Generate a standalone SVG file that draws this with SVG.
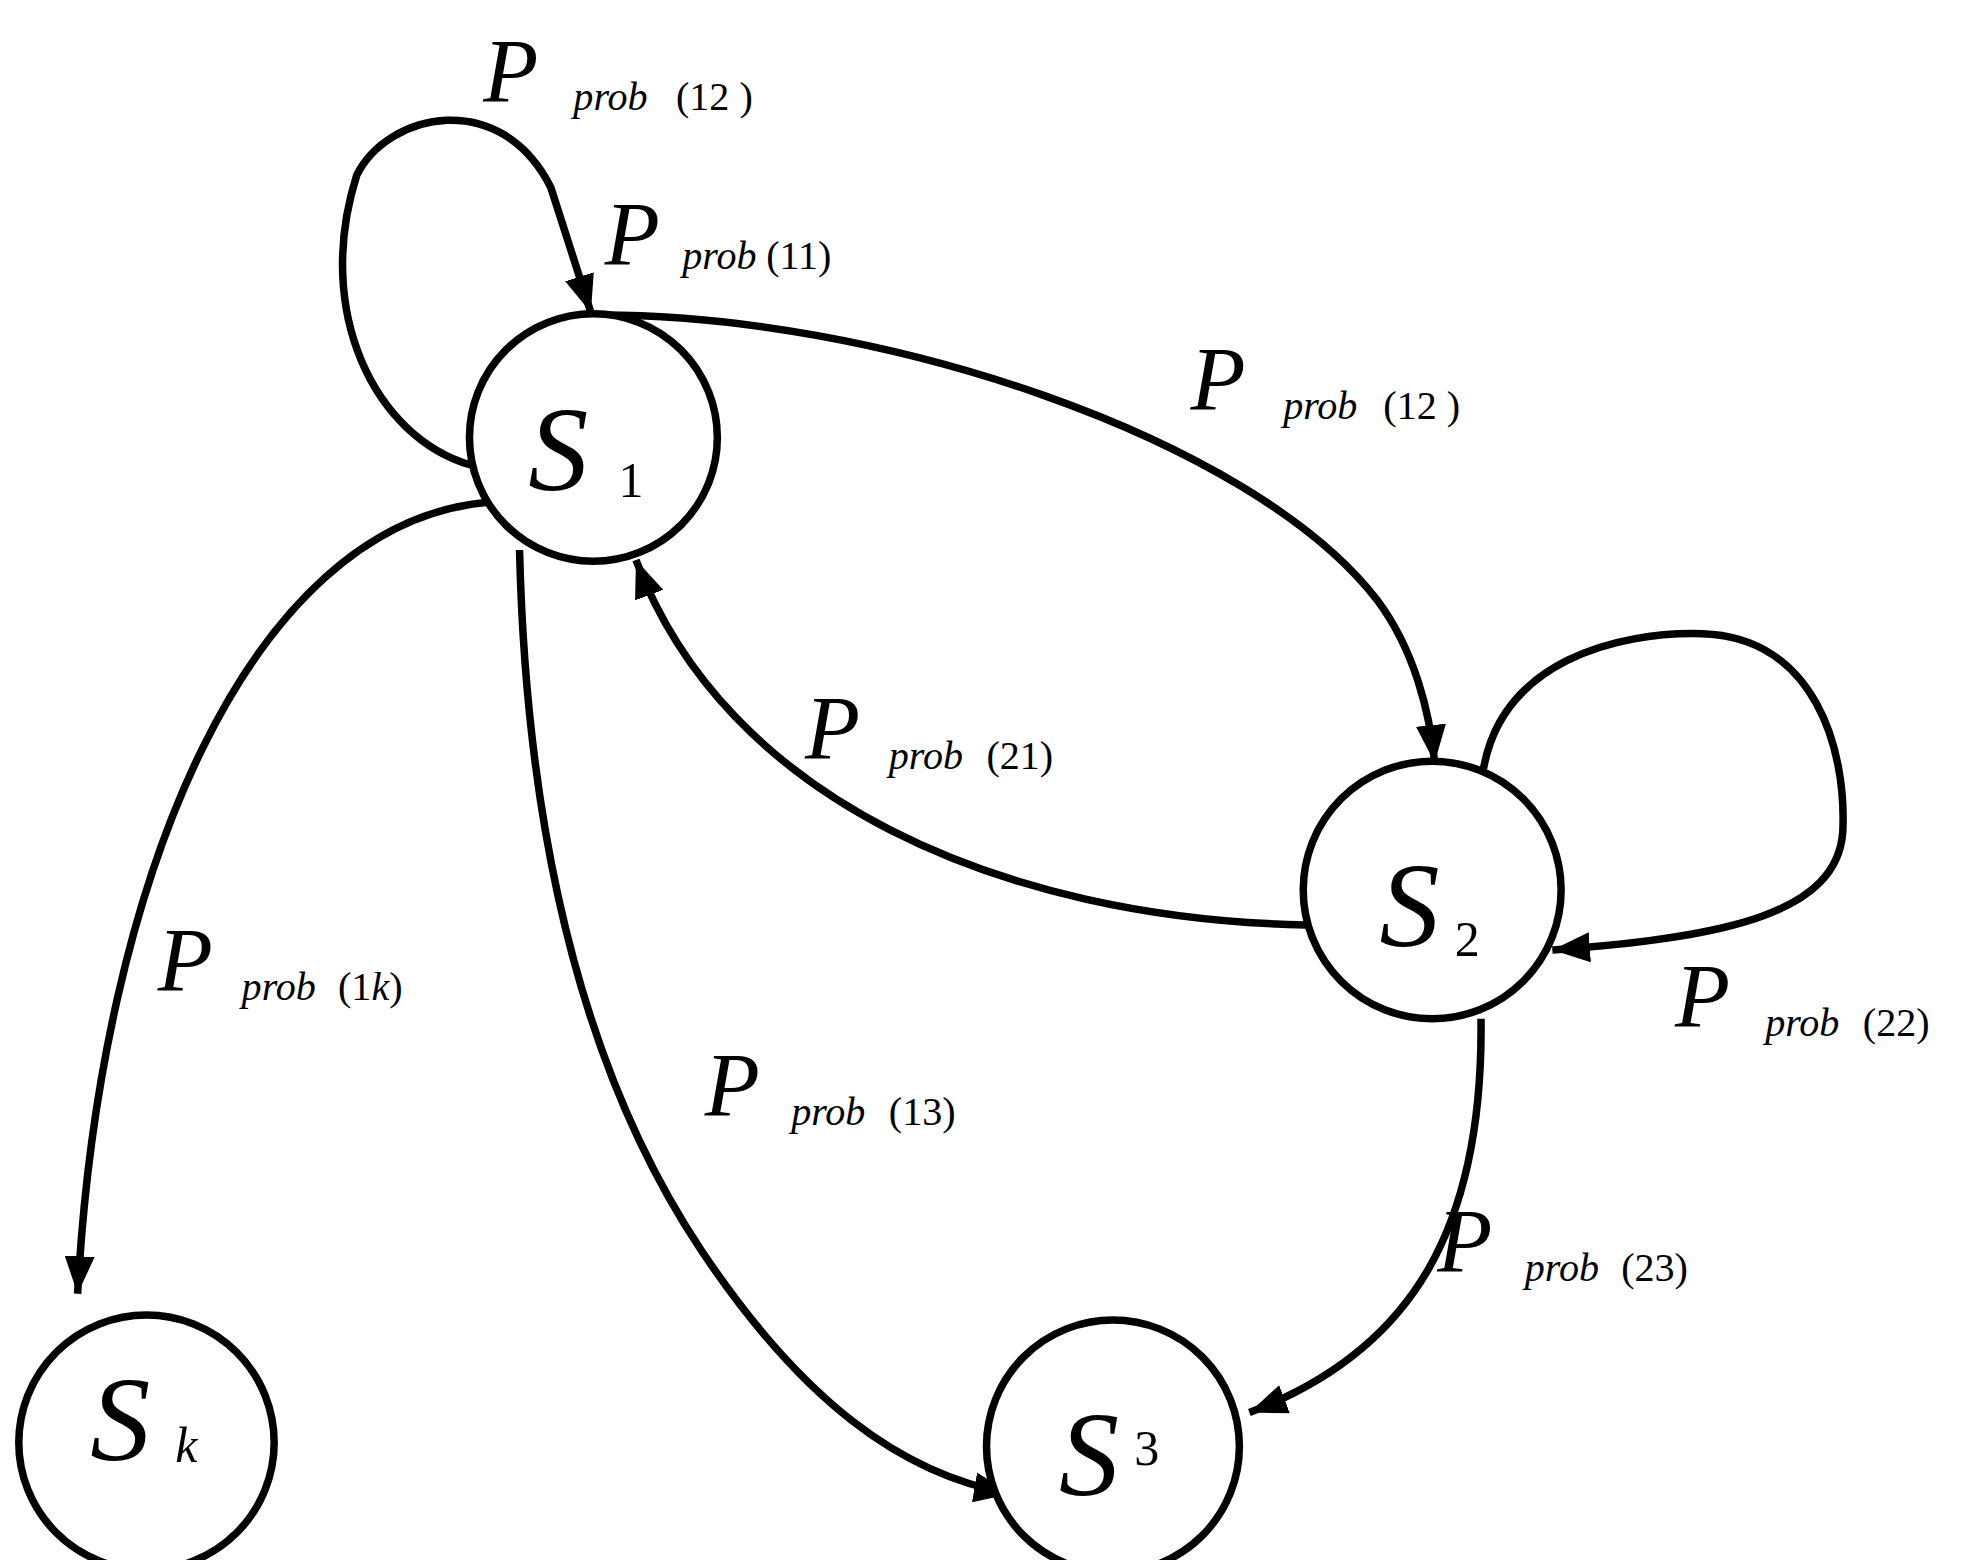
<svg xmlns="http://www.w3.org/2000/svg" width="1963" height="1560" viewBox="0 0 1963 1560">
<style>
.n{fill:#fff;stroke:#000;stroke-width:6}
.e{fill:none;stroke:#000;stroke-width:6;marker-end:url(#a)}
text{font-family:"Liberation Serif","Times New Roman",serif;fill:#000}
.P{font-size:72px;font-style:italic}
.sb{font-size:32px;font-style:italic}
.nm{font-size:32px}
.S{font-size:96px;font-style:italic}
.d{font-size:40px}
</style>
<defs><marker id="a" viewBox="0 0 10 8" refX="10" refY="4" markerWidth="5" markerHeight="4" orient="auto"><path d="M0,0L10,4L0,8z" fill="#000"/></marker></defs>
<rect width="1963" height="1560" fill="#fff"/>
<g transform="scale(1.2519 1.25)">
<g id="connectors">
<path class="e" d="M376,372 C300,350 250,250 285,140 C310,90 400,70 440,150 L472,250"/>
<path class="e" d="M474,252 C700,250 1000,350 1100,480 C1130,520 1142,570 1146,610"/>
<path class="e" d="M1043,740 C800,735 580,640 508,448"/>
<path class="e" d="M1185,615 C1200,530 1290,505 1360,507 C1450,510 1475,600 1472,665 C1468,730 1380,750 1240,760"/>
<path class="e" d="M388,402 C200,420 80,700 62,1035"/>
<path class="e" d="M415,440 C420,650 460,850 560,1000 C640,1120 720,1180 808,1195"/>
<path class="e" d="M1183,815 C1185,980 1130,1080 998,1130"/>
</g>
<g id="s1"><circle class="n" cx="474" cy="350" r="99"/><text class="S" x="422" y="392">S</text><text class="d" x="494" y="398">1</text></g>
<g id="s2"><circle class="n" cx="1144" cy="712" r="103"/><text class="S" x="1102" y="757">S</text><text class="d" x="1162" y="765">2</text></g>
<g id="s3"><circle class="n" cx="889" cy="1157" r="101"/><text class="S" x="846" y="1196">S</text><text class="d" x="906" y="1172">3</text></g>
<g id="sk"><circle class="n" cx="117" cy="1154" r="102"/><text class="S" x="72" y="1168">S</text><text class="d" x="140" y="1170" font-style="italic">k</text></g>
<g id="labels">
<text x="386" y="82"><tspan class="P">P</tspan><tspan class="sb" x="458" y="88">prob</tspan><tspan class="nm" x="540" y="88">(12 )</tspan></text>
<text x="483" y="212"><tspan class="P">P</tspan><tspan class="sb" x="545" y="215">prob</tspan><tspan class="nm" x="612" y="215">(11)</tspan></text>
<text x="951" y="328"><tspan class="P">P</tspan><tspan class="sb" x="1025" y="335">prob</tspan><tspan class="nm" x="1105" y="335">(12 )</tspan></text>
<text x="643" y="607"><tspan class="P">P</tspan><tspan class="sb" x="710" y="615">prob</tspan><tspan class="nm" x="788" y="615">(21)</tspan></text>
<text x="1338" y="822"><tspan class="P">P</tspan><tspan class="sb" x="1410" y="829">prob</tspan><tspan class="nm" x="1488" y="829">(22)</tspan></text>
<text x="126" y="793"><tspan class="P">P</tspan><tspan class="sb" x="193" y="800">prob</tspan><tspan class="nm" x="270" y="800">(1</tspan><tspan class="sb">k</tspan><tspan class="nm">)</tspan></text>
<text x="563" y="893"><tspan class="P">P</tspan><tspan class="sb" x="632" y="900">prob</tspan><tspan class="nm" x="710" y="900">(13)</tspan></text>
<text x="1148" y="1018"><tspan class="P">P</tspan><tspan class="sb" x="1218" y="1025">prob</tspan><tspan class="nm" x="1295" y="1025">(23)</tspan></text>
</g>
</g>
</svg>
